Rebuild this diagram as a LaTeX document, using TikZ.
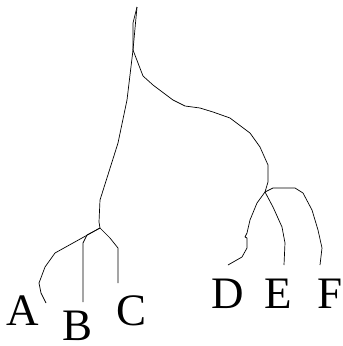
\documentclass[tikz,border=0pt]{standalone}
\usepackage{fontspec}
\setmainfont{Liberation Serif}
\usetikzlibrary{positioning}

\begin{document}
\begin{tikzpicture}[x=1pt, y=-1pt,
      branch/.style={draw, line width=0.7pt, line join=round},
      leaf/.style={inner sep=0pt, font=\fontsize{45}{45}\selectfont}]
    \useasboundingbox (0,0) rectangle (343,346);
    % junctions
    \coordinate (top) at (137,7);
    \coordinate (root) at (133,50);
    \coordinate (abc) at (100,228);
    \coordinate (def) at (265,192);
    % leaf ends
    \coordinate (endA) at (46,303);
    \coordinate (endB) at (83,302);
    \coordinate (endC) at (118,283);
    \coordinate (endD) at (228,265);
    \coordinate (endE) at (284,265);
    \coordinate (endF) at (320,265);
    % labels
    \node[leaf] (A) at (23,311) {A};
    \node[leaf] (B) at (78,326) {B};
    \node[leaf] (C) at (132,311) {C};
    \node[leaf] (D) at (228,294) {D};
    \node[leaf] (E) at (278,294) {E};
    \node[leaf] (F) at (330,294) {F};
    % stem
    \draw[branch] (top) -- (133,23) -- (root);
    \draw[branch] (top) -- (root);
    % left subtree
    \draw[branch] (root) -- (127,100) -- (118,143) -- (100,200) -- (99,222) -- (abc);
    \draw[branch] (abc) -- (55,253) -- (45,267) -- (39,283) -- (41,293) -- (endA);
    \draw[branch] (abc) -- (87,235) -- (83,243) -- (endB);
    \draw[branch] (abc) -- (110,238) -- (118,248) -- (endC);
    % right subtree
    \draw[branch] (root) -- (143,76) -- (153,85) -- (173,100) -- (185,106) -- (200,108)
      -- (213,112) -- (230,118) -- (250,133) -- (260,147) -- (268,165) -- (268,182) -- (def);
    \draw[branch] (def) -- (257,203) -- (250,220) -- (247,233) -- (245,237) -- (247,238)
      -- (247,248) -- (242,257) -- (endD);
    \draw[branch] (def) -- (273,207) -- (282,227) -- (285,243) -- (endE);
    \draw[branch] (def) -- (273,188) -- (295,188) -- (303,193) -- (312,210) -- (318,230)
      -- (322,248) -- (endF);
\end{tikzpicture}
\end{document}
